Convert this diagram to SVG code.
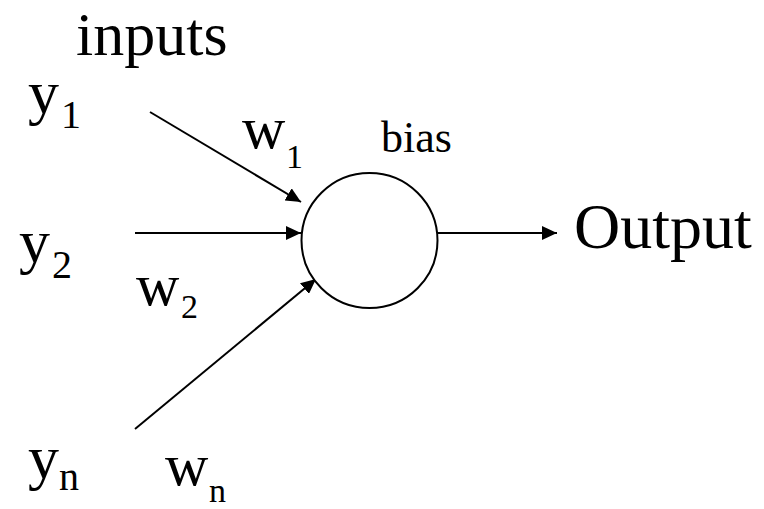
<svg xmlns="http://www.w3.org/2000/svg" width="764" height="509" viewBox="0 0 764 509">
<style>
.t { font-family: 'Liberation Serif', 'Tinos', 'Times New Roman', 'Noto Serif', 'DejaVu Serif', 'FreeSerif', serif; fill: #000; }
.big { font-size: 62px; }
.out { font-size: 64px; }
.sub { font-size: 40px; }
.w { font-size: 60px; }
.wsub { font-size: 34px; }
.sm { font-size: 44px; }
.edge { stroke: #000; stroke-width: 2; fill: none; marker-end: url(#arr); }
</style>
<defs>
<marker id="arr" markerUnits="userSpaceOnUse" markerWidth="16" markerHeight="14" refX="15" refY="7" orient="auto">
<path d="M0,0 L15,7 L0,14 Z" fill="#000"/>
</marker>
</defs>
<rect width="764" height="509" fill="#fff"/>
<g id="connectors">
<line class="edge" x1="150" y1="112" x2="301" y2="202"/>
<line class="edge" x1="135" y1="233" x2="301" y2="233"/>
<line class="edge" x1="135" y1="429" x2="316" y2="279"/>
<line class="edge" x1="438" y1="233" x2="557" y2="233"/>
</g>
<g id="neuron">
<ellipse cx="369.5" cy="240.5" rx="68" ry="67.5" fill="#fff" stroke="#000" stroke-width="2"/>
</g>
<g class="t">
<g id="inputs-label"><text class="big" x="76" y="55">inputs</text></g>
<g id="y1"><text class="big" x="28" y="113">y</text><text class="sub" x="61" y="128">1</text></g>
<g id="y2"><text class="big" x="19" y="262">y</text><text class="sub" x="52" y="278">2</text></g>
<g id="yn"><text class="big" x="28" y="478">y</text><text class="sub" x="59" y="490">n</text></g>
<g id="w1"><text class="w" x="242" y="148">w</text><text class="wsub" x="286" y="168">1</text></g>
<g id="w2"><text class="w" x="136" y="305">w</text><text class="wsub" x="181" y="318">2</text></g>
<g id="wn"><text class="w" x="165" y="485">w</text><text class="wsub" x="209" y="502">n</text></g>
<g id="bias"><text class="sm" x="381" y="152">bias</text></g>
<g id="output"><text class="out" x="574" y="248">Output</text></g>
</g>
</svg>
